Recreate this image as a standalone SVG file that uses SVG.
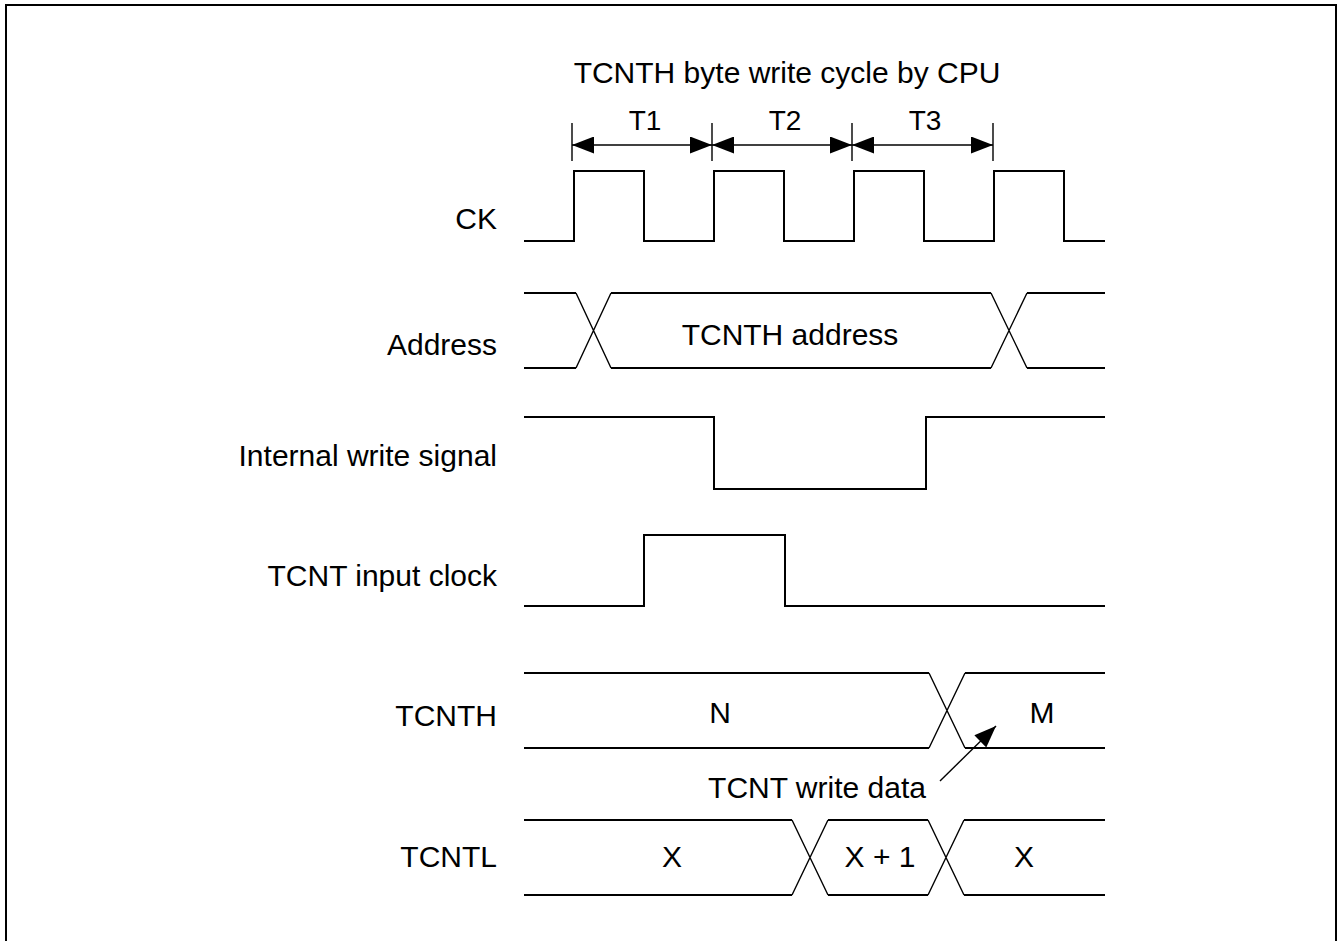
<svg xmlns="http://www.w3.org/2000/svg" width="1338" height="941" viewBox="0 0 1338 941">
<style>
text{font-family:"Liberation Sans",Arial,sans-serif;font-size:30px;fill:#000}
.lbl{text-anchor:end}
.c{text-anchor:middle}
.t{font-size:28px}
.sig{fill:none;stroke:#000;stroke-width:2;stroke-linejoin:miter}
.thin{fill:none;stroke:#000;stroke-width:1.4}
</style>
<defs>
<marker id="ah" viewBox="0 0 22 17" refX="22" refY="8.5" markerWidth="22" markerHeight="17" markerUnits="userSpaceOnUse" orient="auto-start-reverse">
<path d="M0,0 L22,8.5 L0,17 Z" fill="#000"/>
</marker>
</defs>
<rect width="1338" height="941" fill="#fff"/>
<path d="M6,941 V5 H1336 V941" fill="none" stroke="#000" stroke-width="2"/>
<text class="c" x="787" y="83">TCNTH byte write cycle by CPU</text>
<g id="cycles">
<text class="c t" x="645" y="130">T1</text>
<text class="c t" x="785" y="130">T2</text>
<text class="c t" x="925" y="130">T3</text>
<path class="thin" d="M572,123 V161 M712,123 V161 M852,123 V161 M993,123 V161"/>
</g>
<g id="ck">
<text class="lbl" x="497" y="229">CK</text>
<path class="sig" d="M524,241 H574 V171 H644 V241 H714 V171 H784 V241 H854 V171 H924 V241 H994 V171 H1064 V241 H1105"/>
</g>
<g id="address">
<text class="lbl" x="497" y="355">Address</text>
<path class="sig" d="M524,293 H576 M611,293 H991 M1027,293 H1105 M524,368 H576 M611,368 H991 M1027,368 H1105"/>
<path class="thin" d="M576,293 L611,368 M576,368 L611,293 M991,293 L1027,368 M991,368 L1027,293"/>
<text class="c" x="790" y="345">TCNTH address</text>
</g>
<g id="internal-write">
<text class="lbl" x="497" y="466">Internal write signal</text>
<path class="sig" d="M524,417 H714 V489 H926 V417 H1105"/>
</g>
<g id="tcnt-input-clock">
<text class="lbl" x="497" y="586">TCNT input clock</text>
<path class="sig" d="M524,606 H644 V535 H785 V606 H1105"/>
</g>
<g id="tcnth">
<text class="lbl" x="497" y="726">TCNTH</text>
<path class="sig" d="M524,673 H929 M965,673 H1105 M524,748 H929 M965,748 H1105"/>
<path class="thin" d="M929,673 L965,748 M929,748 L965,673"/>
<text class="c" x="720" y="723">N</text>
<text class="c" x="1042" y="723">M</text>
</g>
<g id="tcntl">
<text class="lbl" x="497" y="867">TCNTL</text>
<path class="sig" d="M524,820 H792 M828,820 H928 M964,820 H1105 M524,895 H792 M828,895 H928 M964,895 H1105"/>
<path class="thin" d="M792,820 L828,895 M792,895 L828,820 M928,820 L964,895 M928,895 L964,820"/>
<text class="c" x="672" y="867">X</text>
<text class="c" x="880" y="867">X + 1</text>
<text class="c" x="1024" y="867">X</text>
</g>
<g id="write-data-note">
<text class="c" x="817" y="798">TCNT write data</text>
</g>
<g id="connectors">
<path class="thin" d="M572,145 H712" marker-start="url(#ah)" marker-end="url(#ah)"/>
<path class="thin" d="M712,145 H852" marker-start="url(#ah)" marker-end="url(#ah)"/>
<path class="thin" d="M852,145 H993" marker-start="url(#ah)" marker-end="url(#ah)"/>
<path class="thin" d="M940,781 L996,726" marker-end="url(#ah)"/>
</g>
</svg>
